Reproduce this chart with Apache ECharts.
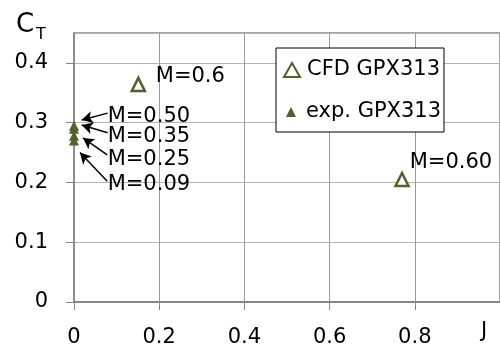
<!DOCTYPE html>
<html>
<head>
<meta charset="utf-8">
<script src="https://cdn.jsdelivr.net/npm/echarts@6/dist/echarts.min.js"></script>
<style>
  html, body { margin: 0; padding: 0; background: #fff; }
  #chart { width: 500px; height: 348px; }
</style>
</head>
<body>
<div id="chart"></div>
<script>
// CFD results (J, CT)
var cfdJ = [0.151, 0.770];
var cfdCT = [0.364, 0.205];
// experiment at J = 0
var expJ = [0, 0, 0, 0];
var expCT = [0.295, 0.290, 0.278, 0.270];
// tick labels
var xTicks = [0, 0.2, 0.4, 0.6, 0.8];
var yTicks = [0, 0.1, 0.2, 0.3, 0.4];

// Mach number notes: text, where the text sits, arrow from/to (data coords)
var noteText = ['M=0.6', 'M=0.60', 'M=0.50', 'M=0.35', 'M=0.25', 'M=0.09'];
var noteAt = [[0.192, 0.377], [0.788, 0.233], [0.079, 0.311], [0.079, 0.276], [0.079, 0.239], [0.079, 0.196]];
var arrowFrom = [[0.079, 0.316], [0.079, 0.283], [0.078, 0.246], [0.078, 0.202]];
var arrowTo = [[0.018, 0.3045], [0.018, 0.296], [0.021, 0.2745], [0.014, 0.250]];

var olive = '#4f6228';
var font = 'DejaVu Sans';

var chart = echarts.init(document.getElementById('chart'));

var cfdData = cfdJ.map(function (j, i) { return [j, cfdCT[i]]; });
var expData = expJ.map(function (j, i) { return [j, expCT[i]]; });
var notes = noteText.map(function (t, i) { return { name: t, value: noteAt[i] }; });
var arrows = arrowFrom.map(function (p, i) { return [{ coord: p }, { coord: arrowTo[i] }]; });

chart.setOption({
    animation: false,
    textStyle: { fontFamily: font },
    grid: {
        left: 74, top: 33, bottom: 45.3, right: -5.6,
        show: true, borderColor: '#868686', borderWidth: 1.5
    },
    legend: [
        {
            data: ['CFD GPX313'],
            orient: 'vertical',
            left: 276, top: 48,
            padding: [10, 4, 50, 7],
            itemWidth: 16, itemHeight: 14,
            backgroundColor: '#fff',
            borderColor: '#000', borderWidth: 1,
            textStyle: { fontFamily: font, fontSize: 21, color: '#000', lineHeight: 24, padding: [0, 0, 0, 2] }
        },
        {
            data: ['exp. GPX313'],
            orient: 'vertical',
            left: 286, top: 100,
            padding: 0,
            itemWidth: 10, itemHeight: 10,
            textStyle: { fontFamily: font, fontSize: 21, color: '#000', lineHeight: 24, padding: [0, 0, 0, 5] }
        }
    ],
    xAxis: {
        type: 'value', min: 0, max: 1, interval: 0.2,
        axisLine: { lineStyle: { color: '#868686', width: 2 } },
        axisTick: { show: true, length: 8, lineStyle: { color: '#868686' } },
        axisLabel: {
            margin: 25, fontSize: 21, color: '#000', fontFamily: font,
            showMaxLabel: false,
            formatter: function (v) { return xTicks.indexOf(+v.toFixed(1)) >= 0 ? String(+v.toFixed(1)) : ''; }
        },
        splitLine: { show: true, lineStyle: { color: '#9a9a9a', width: 1 } }
    },
    yAxis: {
        type: 'value', min: 0, max: 0.45, interval: 0.1,
        axisLine: { show: true, lineStyle: { color: '#868686', width: 1.5 } },
        axisTick: { show: true, length: 8, lineStyle: { color: '#868686' } },
        axisLabel: {
            margin: 26, fontSize: 21, color: '#000', fontFamily: font,
            showMaxLabel: false,
            formatter: function (v) { return yTicks.indexOf(+v.toFixed(2)) >= 0 ? String(+v.toFixed(1)) : ''; }
        },
        splitLine: { show: true, lineStyle: { color: '#b4b4b4', width: 1 } }
    },
    graphic: [
        { type: 'text', left: 16, top: 12, style: { text: 'C', fontFamily: font, fontSize: 26, fill: '#000' } },
        { type: 'text', left: 36, top: 27, style: { text: 'T', fontFamily: font, fontSize: 16, fill: '#000' } },
        { type: 'text', left: 481, top: 321, style: { text: 'J', fontFamily: font, fontSize: 21, fill: '#000' } }
    ],
    series: [
        {
            name: 'CFD GPX313',
            type: 'scatter',
            symbol: 'triangle',
            symbolSize: 13,
            itemStyle: { color: '#fff', borderColor: olive, borderWidth: 2.5, opacity: 1 },
            data: cfdData,
            z: 3
        },
        {
            name: 'exp. GPX313',
            type: 'scatter',
            symbol: 'triangle',
            symbolSize: 10,
            itemStyle: { color: olive, opacity: 1 },
            data: expData,
            z: 3,
            markLine: {
                silent: true,
                symbol: ['none', 'arrow'],
                symbolSize: [9, 11],
                lineStyle: { color: '#000', width: 1.5, type: 'solid' },
                label: { show: false },
                emphasis: { disabled: true },
                data: arrows
            }
        },
        {
            name: 'notes',
            type: 'scatter',
            symbolSize: 0,
            silent: true,
            itemStyle: { opacity: 1 },
            data: notes,
            label: {
                show: true, position: 'right', distance: 0,
                formatter: '{b}', fontFamily: font, fontSize: 21, color: '#000'
            },
            z: 4
        }
    ]
});
</script>
</body>
</html>
